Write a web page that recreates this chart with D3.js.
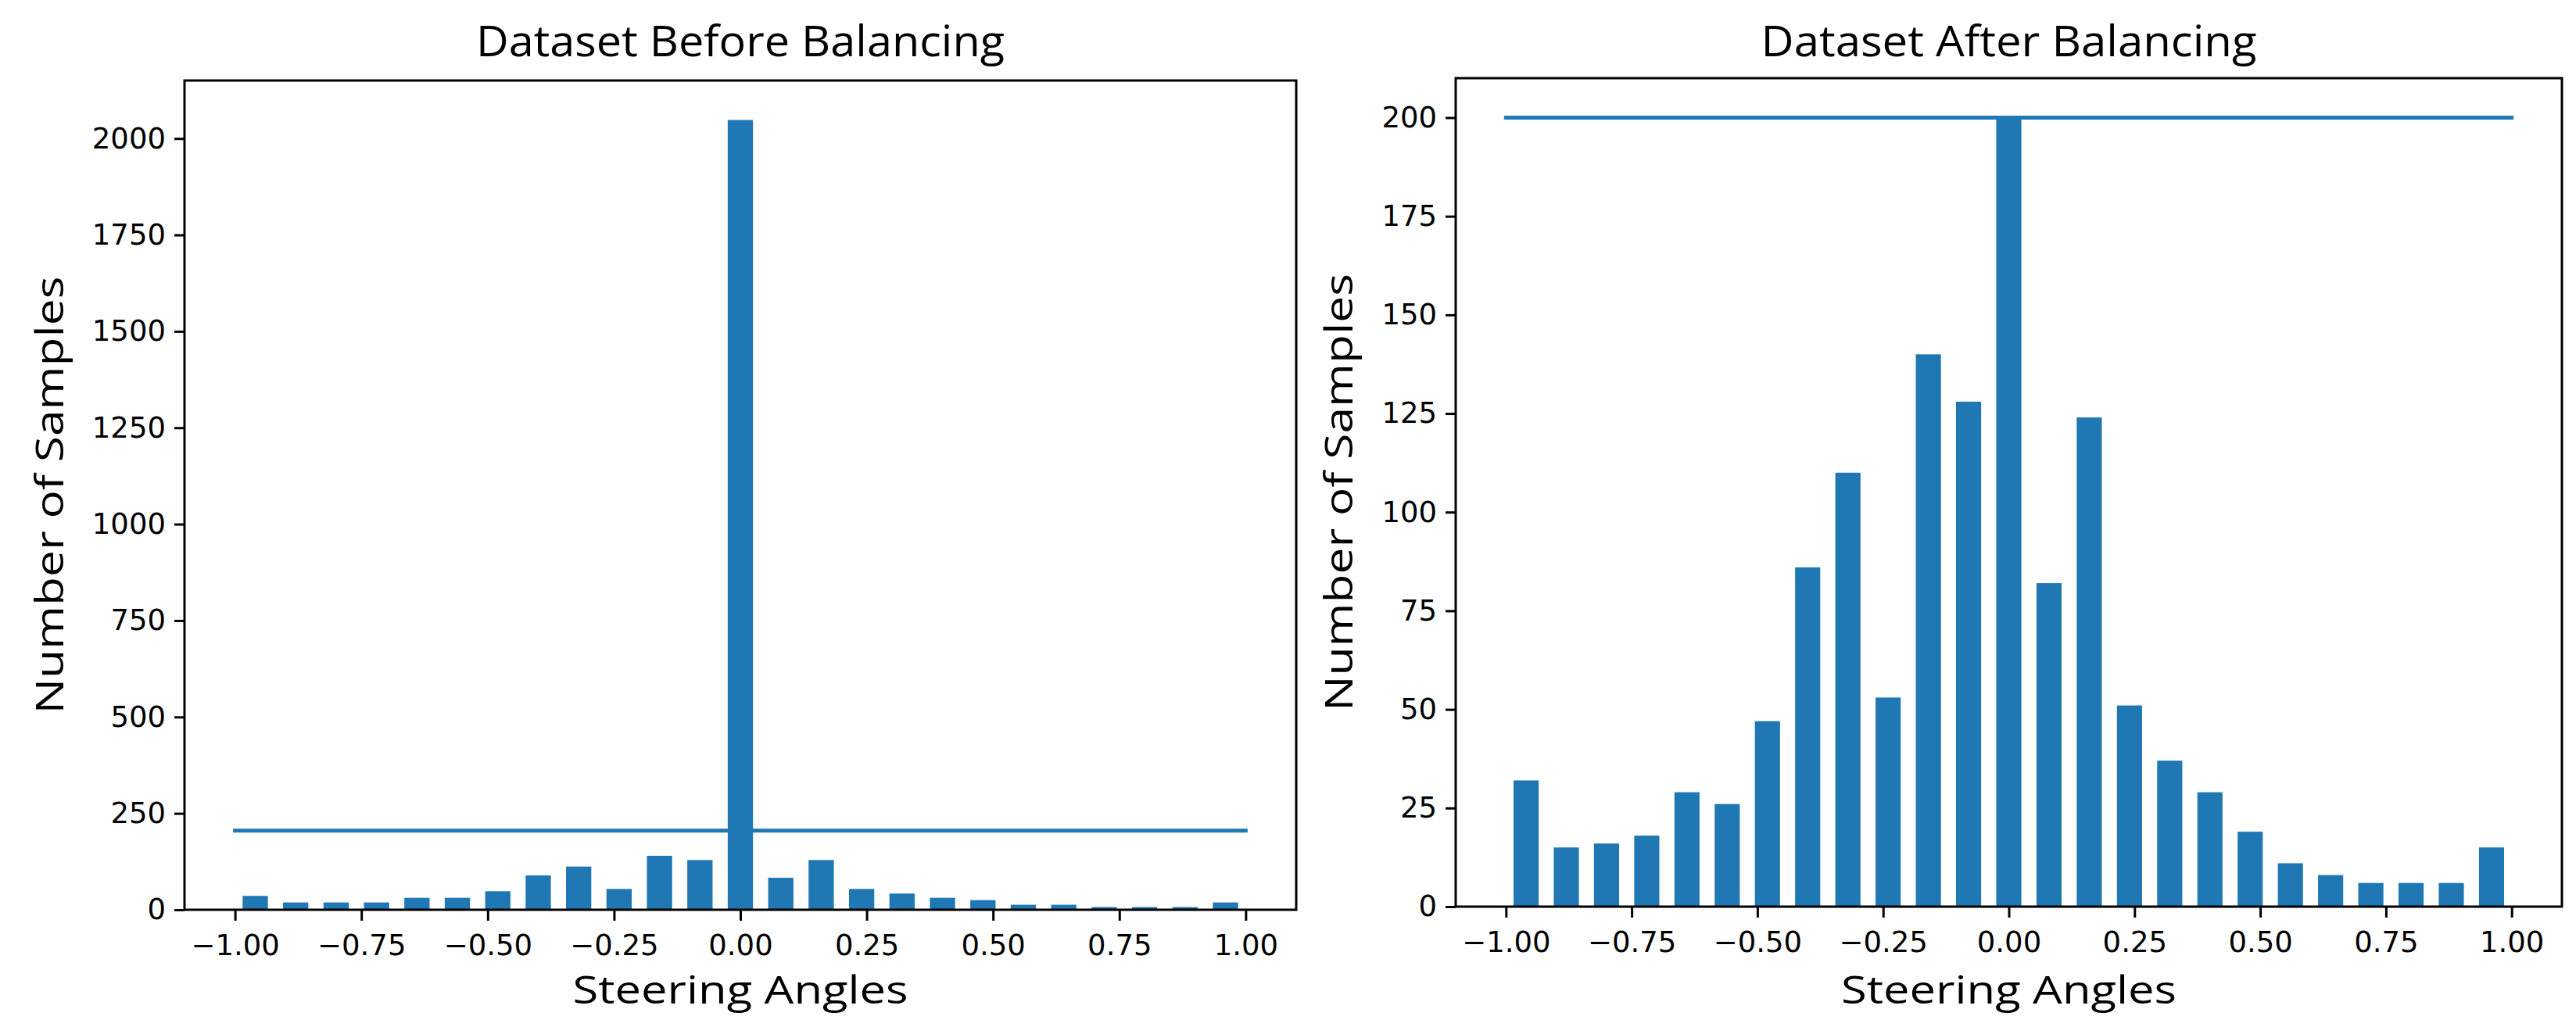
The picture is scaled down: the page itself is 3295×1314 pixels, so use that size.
<!DOCTYPE html>
<html>
<head>
<meta charset="utf-8">
<script src="https://cdn.jsdelivr.net/npm/d3@7"></script>
<style>
  html, body { margin: 0; padding: 0; background: #fff; }
  svg { display: block; }
</style>
</head>
<body>
<svg id="chart" width="3295" height="1314"></svg>
<script>
// ---- Data ----
const binCenters = [-0.96,-0.88,-0.80,-0.72,-0.64,-0.56,-0.48,-0.40,-0.32,-0.24,-0.16,-0.08,0.00,
                    0.08,0.16,0.24,0.32,0.40,0.48,0.56,0.64,0.72,0.80,0.88,0.96];
const beforeCounts = [36,19,19,19,31,31,48,89,112,54,140,129,2048,83,129,54,42,31,25,13,13,7,7,7,19];
const afterCounts  = [32,15,16,18,29,26,47,86,110,53,140,128,200,82,124,51,37,29,19,11,8,6,6,6,15];
const beforeThreshold = 205;
const afterThreshold = 200;
const lineRange = [-1.0, 1.0];
const xTicks = [-1.00,-0.75,-0.50,-0.25,0.00,0.25,0.50,0.75,1.00];
const beforeYTicks = [0,250,500,750,1000,1250,1500,1750,2000];
const afterYTicks = [0,25,50,75,100,125,150,175,200];
const titles = ["Dataset Before Balancing", "Dataset After Balancing"];
const xLabel = "Steering Angles";
const yLabel = "Number of Samples";
const barWidth = 0.05;

const svg = d3.select("#chart");
svg.append("rect").attr("width", 3295).attr("height", 1314).attr("fill", "#fff");

const BLUE = "#1f77b4";
const labelFont = "'Open Sans', 'Noto Sans', sans-serif";
const tickFont = "'DejaVu Sans', sans-serif";

function panel(opt) {
  const {left, right, top, bottom, counts, threshold, yTicks, title, titleLen, yLabelX} = opt;
  const xmin = lineRange[0], xmax = lineRange[1];
  const xm = (xmax - xmin) * 0.05;
  const x = d3.scaleLinear().domain([xmin - xm, xmax + xm]).range([left, right]);
  const ymax = d3.max(counts.concat([threshold])) * 1.05;
  const y = d3.scaleLinear().domain([0, ymax]).range([bottom, top]);

  const g = svg.append("g");

  // bars
  g.selectAll("rect.bar").data(binCenters).enter().append("rect")
    .attr("class", "bar")
    .attr("x", (d) => x(d - barWidth / 2))
    .attr("width", (d) => x(d + barWidth / 2) - x(d - barWidth / 2))
    .attr("y", (d, i) => y(counts[i]))
    .attr("height", (d, i) => y(0) - y(counts[i]))
    .attr("fill", BLUE);

  // threshold line
  g.append("line")
    .attr("x1", x(lineRange[0])).attr("x2", x(lineRange[1]))
    .attr("y1", y(threshold)).attr("y2", y(threshold))
    .attr("stroke", BLUE).attr("stroke-width", 5).attr("stroke-linecap", "square");

  // axes
  const xAxis = d3.axisBottom(x).tickValues(xTicks).tickSize(14).tickPadding(18)
    .tickFormat((d) => d3.format(".2f")(d).replace("-", "\u2212"));
  const gx = g.append("g").attr("transform", `translate(0,${bottom})`).call(xAxis);
  const yAxis = d3.axisLeft(y).tickValues(yTicks).tickSize(13).tickPadding(11)
    .tickFormat(d3.format("d"));
  const gy = g.append("g").attr("transform", `translate(${left},0)`).call(yAxis);
  [gx, gy].forEach((ax) => {
    ax.select(".domain").remove();
    ax.selectAll(".tick line").attr("stroke", "#000").attr("stroke-width", 3);
    ax.selectAll(".tick text").attr("fill", "#000")
      .style("font-family", tickFont).style("font-size", "37px");
  });

  // frame
  g.append("rect")
    .attr("x", left).attr("y", top)
    .attr("width", right - left).attr("height", bottom - top)
    .attr("fill", "none").attr("stroke", "#000").attr("stroke-width", 3);

  // title
  g.append("text")
    .attr("x", (left + right) / 2).attr("y", 72)
    .attr("text-anchor", "middle")
    .attr("textLength", titleLen).attr("lengthAdjust", "spacingAndGlyphs")
    .style("font-family", labelFont).style("font-size", "54px")
    .attr("fill", "#000")
    .text(title);

  // x label
  g.append("text")
    .attr("x", (left + right) / 2).attr("y", 1284)
    .attr("text-anchor", "middle")
    .attr("textLength", 429).attr("lengthAdjust", "spacingAndGlyphs")
    .style("font-family", labelFont).style("font-size", "49px")
    .attr("fill", "#000")
    .text(xLabel);

  // y label
  g.append("text")
    .attr("transform", `translate(${yLabelX},${(top + bottom) / 2}) rotate(-90)`)
    .attr("text-anchor", "middle")
    .attr("dominant-baseline", "central")
    .attr("textLength", 560).attr("lengthAdjust", "spacingAndGlyphs")
    .style("font-family", labelFont).style("font-size", "50px")
    .attr("fill", "#000")
    .text(yLabel);
}

panel({left: 236, right: 1658, top: 103, bottom: 1164, counts: beforeCounts,
       threshold: beforeThreshold, yTicks: beforeYTicks, title: titles[0], titleLen: 676, yLabelX: 62});
panel({left: 1862, right: 3277, top: 100, bottom: 1160, counts: afterCounts,
       threshold: afterThreshold, yTicks: afterYTicks, title: titles[1], titleLen: 634, yLabelX: 1711});
</script>
</body>
</html>
